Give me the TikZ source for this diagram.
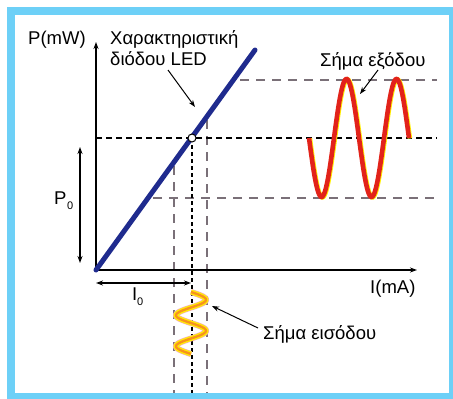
\documentclass[tikz,border=0pt]{standalone}
\usepackage{fontspec}
\setmainfont{Liberation Sans}
\usetikzlibrary{arrows.meta}
\definecolor{frameblue}{HTML}{6DD0F7}
\definecolor{lineblue}{HTML}{1F2B8E}
\definecolor{sigred}{HTML}{E2231A}
\definecolor{sigyellow}{HTML}{FFF200}
\definecolor{sigorange}{HTML}{F7941D}
\definecolor{sigpink}{HTML}{F4A6B8}
\definecolor{dashgray}{HTML}{7A7078}
\begin{document}
\begin{tikzpicture}[x=1pt,y=-1pt,
  lbl/.style={inner sep=0pt, anchor=base west, font=\fontsize{18.5}{21}\selectfont},
  sub/.style={inner sep=0pt, anchor=base west, font=\fontsize{11}{12}\selectfont},
  graydash/.style={dashgray, line width=1.3pt, dash pattern=on 9pt off 7pt},
  blackdash/.style={black, line width=1.4pt, dash pattern=on 6pt off 4pt},
  blackdot/.style={black, line width=1.6pt, dash pattern=on 4pt off 3pt},
  tip/.style={-{Stealth[length=7pt,width=5pt]}},
  dtip/.style={{Stealth[length=7pt,width=5pt]}-{Stealth[length=7pt,width=5pt]}},
  pointer/.style={line width=1pt, -{Stealth[length=7pt,width=5pt]}}]
\useasboundingbox (0,0) rectangle (453,399);
\fill[frameblue] (7,7) rectangle (453,399);
\fill[white] (15,15) rectangle (449,393);

% key coordinates
\coordinate (O) at (96,270);
\coordinate (Q) at (192,138);
\coordinate (Ytop) at (96,42);
\coordinate (Xend) at (417,270);
\coordinate (Ltop) at (255,50);

% dashed guide lines
\draw[graydash] (240,80) -- (437,80);
\draw[graydash] (153,198) -- (437,198);
\draw[graydash] (174,166) -- (174,393);
\draw[graydash] (207,120) -- (207,393);
\draw[blackdash] (O |- Q) -- (437,138);
\draw[blackdot] (Q) -- (192,393);

% axes
\draw[line width=1.5pt, tip] (O) -- (Ytop);
\draw[line width=1.5pt, tip] (O) -- (Xend);

% characteristic
\draw[lineblue, line width=5pt, line cap=round] (O) -- (Ltop);
\node[circle, draw=black, fill=white, line width=1pt, minimum size=8pt, inner sep=0pt] (qp) at (Q) {};

% output signal
\draw[sigyellow, line width=4.6pt, xshift=0.9pt, yshift=-0.4pt] plot[smooth, samples=120, domain=0:100] ({309+\x},{138+59*sin(7.2*\x)});
\draw[sigred, line width=4.6pt] plot[smooth, samples=120, domain=0:100] ({309+\x},{138+59*sin(7.2*\x)});

% input signal
\draw[sigpink, line width=6pt] plot[smooth, samples=80, domain=0:62] ({191+15*sin(11.6129*\x)},{292+\x});
\draw[sigyellow, line width=4.8pt] plot[smooth, samples=80, domain=0:62] ({191+15*sin(11.6129*\x)},{292+\x});
\draw[sigorange, line width=2.4pt] plot[smooth, samples=80, domain=0:62] ({191+15*sin(11.6129*\x)},{292+\x});

% P0 and I0 dimension arrows
\coordinate (p0a) at (80,147);
\coordinate (p0b) at (80,263);
\draw[line width=1.2pt, dtip] (p0a) -- (p0b);
\coordinate (i0a) at (96,283);
\coordinate (i0b) at (191,283);
\draw[line width=1.2pt, dtip] (i0a) -- (i0b);

% labels
\node[lbl] (pmw) at (28,44) {P(mW)};
\node[lbl] (char1) at (110,44) {Χαρακτηριστική};
\node[lbl] (char2) at (110,65) {διόδου LED};
\node[lbl] (outl) at (320,66) {Σήμα εξόδου};
\node[lbl] (ima) at (370,293) {I(mA)};
\node[lbl] (inl) at (263,339) {Σήμα εισόδου};
\node[lbl] (P0) at (54,204) {P};
\node[sub] (P0s) at (67,209) {0};
\node[lbl] (I0) at (132,300) {I};
\node[sub] (I0s) at (137,305) {0};

% pointers
\coordinate (c1) at (168,70);
\coordinate (c1e) at (195,107);
\draw[pointer] (c1) -- (c1e);
\coordinate (c2) at (378,70);
\coordinate (c2e) at (360,94);
\draw[pointer] (c2) -- (c2e);
\coordinate (c3) at (258,328);
\coordinate (c3e) at (212,306);
\draw[pointer] (c3) -- (c3e);
\end{tikzpicture}
\end{document}
